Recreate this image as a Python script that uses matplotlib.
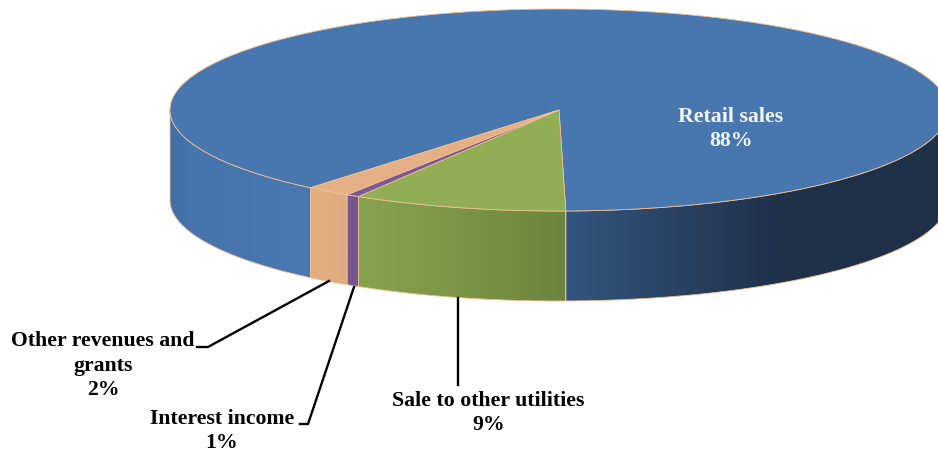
import matplotlib
matplotlib.use('Agg')
import matplotlib.pyplot as plt
from matplotlib.colors import to_rgb
from matplotlib.patches import Polygon
import numpy as np

# slices run clockwise from the front of the pie
labels = ['Sale to other utilities', 'Interest income', 'Other revenues and\ngrants', 'Retail sales']
values = [8.9, 0.55, 1.85, 88.7]
shown = ['9%', '1%', '2%', '88%']
top_colors = ['#92ae54', '#7a5a96', '#e6b086', '#4877b0']
start = -1.0

cx, cy = 559, 110
rx, ry = 389, 101
depth = 90
edge = '#f2bd90'

plt.rcParams['font.family'] = ['Liberation Serif', 'DejaVu Serif']
fig = plt.figure(figsize=(9.38, 4.53), dpi=100)
ax = fig.add_axes([0, 0, 1, 1])


def rim(t):
    t = np.radians(t)
    return cx - rx * np.sin(t), cy + ry * np.cos(t)


def gradient_side(t0, t1, stops):
    # side wall between two angles, shaded left to right
    ts = np.linspace(t0, t1, 80)
    x, y = rim(ts)
    pts = np.column_stack([np.r_[x, x[::-1]], np.r_[y, y[::-1] + depth]])
    patch = Polygon(pts, closed=True, fc='none', ec=edge, lw=0.6, zorder=3)
    ax.add_patch(patch)
    xs = np.arange(0, 939)
    px = [s[0] for s in stops]
    rgb = np.array([to_rgb(s[1]) for s in stops])
    img = np.stack([np.interp(xs, px, rgb[:, i]) for i in range(3)], axis=-1)[None, :, :]
    im = ax.imshow(img, extent=[0, 939, 453, 0], aspect='auto', zorder=2)
    clip = Polygon(pts, closed=True, transform=ax.transData)
    im.set_clip_path(clip)


def top_wedge(t0, t1, color):
    ts = np.linspace(t0, t1, 300)
    x, y = rim(ts)
    pts = np.column_stack([np.r_[cx, x], np.r_[cy, y]])
    ax.add_patch(Polygon(pts, closed=True, fc=color, ec=edge, lw=0.6, zorder=4))


edges = start + np.r_[0, np.cumsum(values)] * 3.6

side_stops = [
    [(360, '#86a44e'), (565, '#6d853e')],
    [(340, '#76578f'), (360, '#76578f')],
    [(309, '#e3ae82'), (347, '#dfac80')],
]
for i in range(3):
    gradient_side(edges[i], edges[i + 1], side_stops[i])
# the big slice shows its wall on both sides of the small ones
gradient_side(edges[3], 90, [(170, '#4070a8'), (190, '#4675ad'), (309, '#4a78b0')])
gradient_side(-90, edges[0], [(566, '#33557f'), (690, '#28405f'), (780, '#1f3149'), (938, '#1f3149')])

# big slice first so the thin ones sit on top of it
top_wedge(edges[3], edges[4], top_colors[3])
for i in range(3):
    top_wedge(edges[i], edges[i + 1], top_colors[i])

# leader lines
ax.plot([197, 208, 329], [347, 347, 281], color='black', lw=1.7, zorder=5)
ax.plot([300, 308, 354], [424, 424, 287], color='black', lw=1.7, zorder=5)
ax.plot([458, 458], [298, 385], color='black', lw=1.7, zorder=5)

font = dict(fontsize=15.7, fontweight='bold', ha='center', va='center', linespacing=1.32, zorder=6)
ax.text(488.5, 413, labels[0] + '\n' + shown[0], color='black', **font)
ax.text(222, 431, labels[1] + '\n' + shown[1], color='black', **font)
ax.text(103, 365.5, labels[2] + '\n' + shown[2], color='black', **font)
ax.text(730.5, 129, labels[3] + '\n' + shown[3], color='#f4f7fb', **font)

ax.set_xlim(0, 938)
ax.set_ylim(453, 0)
ax.axis('off')
fig.savefig('out.png', dpi=100)
